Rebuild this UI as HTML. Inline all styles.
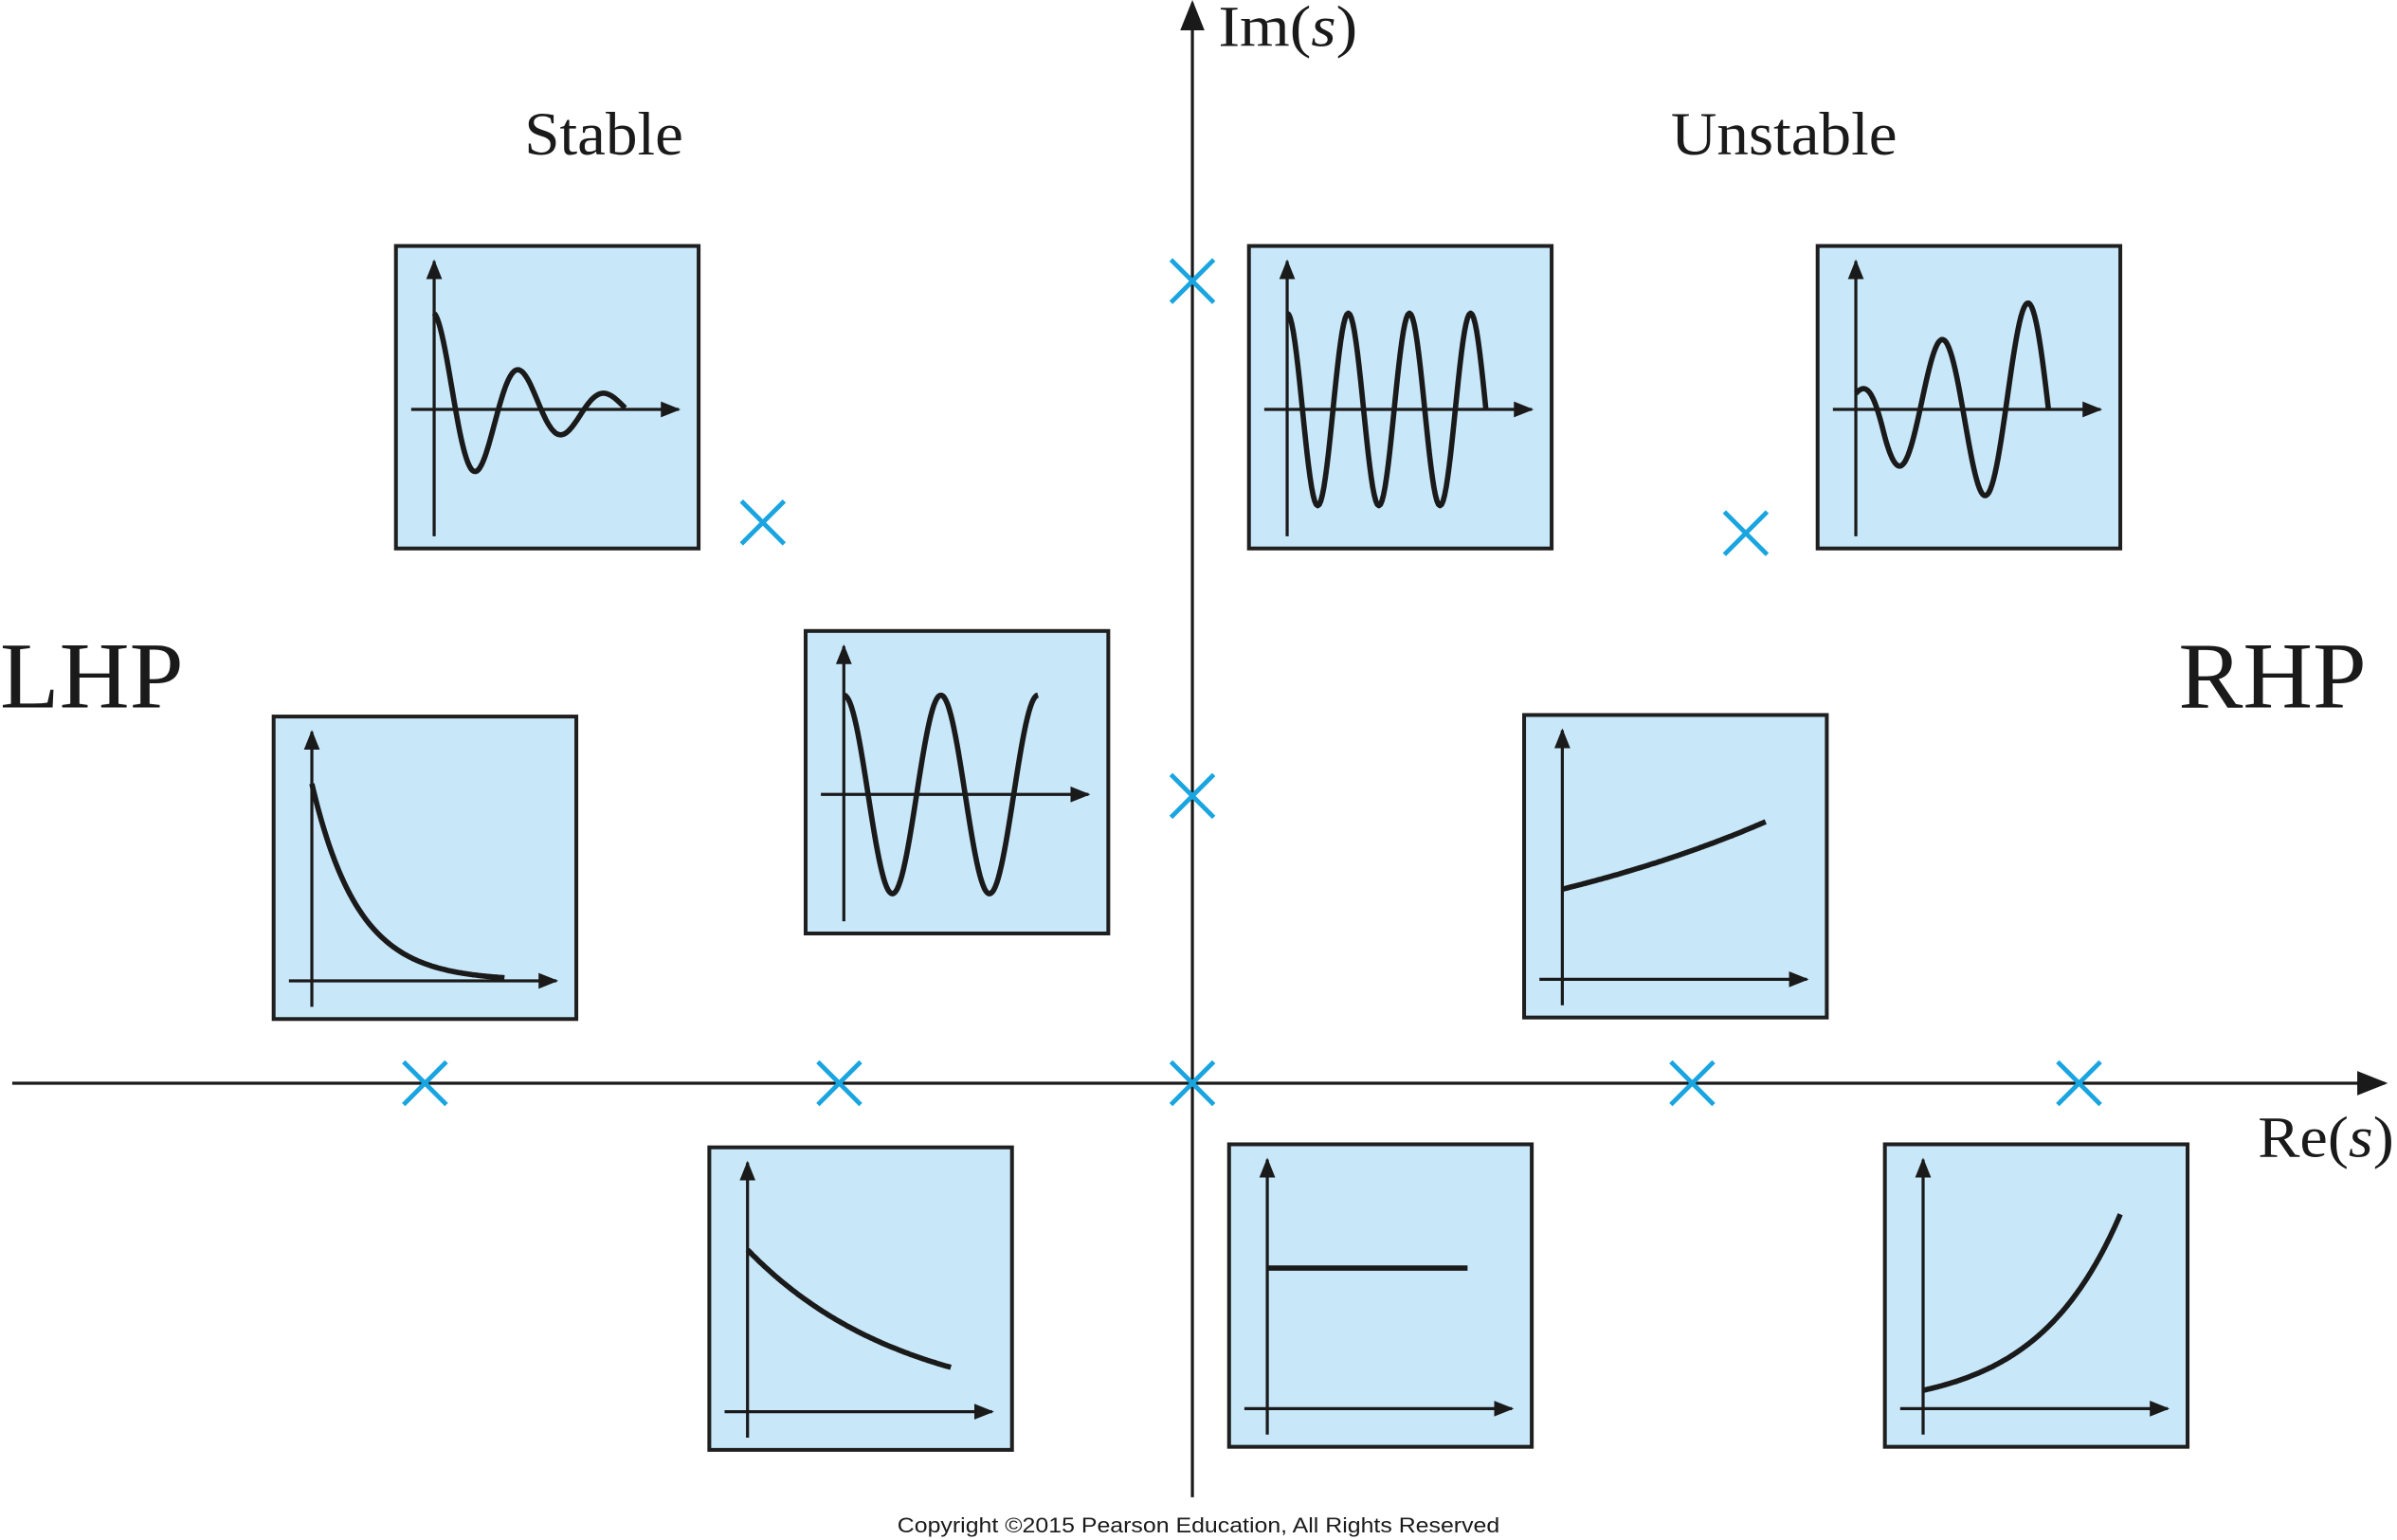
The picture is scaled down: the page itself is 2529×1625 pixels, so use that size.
<!DOCTYPE html>
<html><head><meta charset="utf-8"><style>
html,body{margin:0;padding:0;background:#fff;}
svg{display:block;}
</style></head><body>
<svg id="chart" width="2529" height="1625" viewBox="0 0 1568 1008" preserveAspectRatio="none" xmlns="http://www.w3.org/2000/svg">
<defs>
<marker id="ahBig" viewBox="0 0 10 10" refX="9" refY="5" markerWidth="20" markerHeight="20" orient="auto-start-reverse" markerUnits="userSpaceOnUse"><path d="M0,1 L10,5 L0,9 z" fill="#1a1a1a"/></marker>
<marker id="ahS" viewBox="0 0 10 10" refX="9" refY="5" markerWidth="13" markerHeight="13" orient="auto-start-reverse" markerUnits="userSpaceOnUse"><path d="M0,1 L10,5 L0,9 z" fill="#1a1a1a"/></marker>
</defs>
<g id="boxes"></g>
<line x1="8" y1="709" x2="1560" y2="709" stroke="#1a1a1a" stroke-width="2" marker-end="url(#ahBig)"/>
<line x1="780" y1="980" x2="780" y2="2" stroke="#1a1a1a" stroke-width="2" marker-end="url(#ahBig)"/>
<g id="poles"></g>
<text x="797" y="30" font-family="Liberation Serif, serif" font-size="38" fill="#1a1a1a" textLength="91" lengthAdjust="spacingAndGlyphs">Im(<tspan font-style="italic">s</tspan>)</text>
<text x="1477" y="757" font-family="Liberation Serif, serif" font-size="38" fill="#1a1a1a" textLength="89" lengthAdjust="spacingAndGlyphs">Re(<tspan font-style="italic">s</tspan>)</text>
<text x="343" y="101" font-family="Liberation Serif, serif" font-size="40" fill="#1a1a1a" textLength="104" lengthAdjust="spacingAndGlyphs">Stable</text>
<text x="1093" y="101" font-family="Liberation Serif, serif" font-size="40" fill="#1a1a1a" textLength="148" lengthAdjust="spacingAndGlyphs">Unstable</text>
<text x="0" y="463" font-family="Liberation Serif, serif" font-size="62" fill="#1a1a1a" textLength="120" lengthAdjust="spacingAndGlyphs">LHP</text>
<text x="1425" y="463" font-family="Liberation Serif, serif" font-size="62" fill="#1a1a1a" textLength="123" lengthAdjust="spacingAndGlyphs">RHP</text>
<text x="587" y="1003" font-family="Liberation Sans, sans-serif" font-size="14" fill="#1a1a1a" textLength="394" lengthAdjust="spacingAndGlyphs">Copyright ©2015 Pearson Education, All Rights Reserved</text>
</svg>
<script>
// Pole locations (s-plane units, 1 unit = 100 px)
const poleRe = [-5.02, -2.31, 0, 3.27, 5.80, -2.81, 3.62, 0, 0];
const poleIm = [0, 0, 0, 0, 0, 3.67, 3.60, 5.25, 1.88];
// Response insets: box left/top, response type, params
const boxX = [259, 817, 1189, 527, 179, 997, 464, 804, 1233];
const boxY = [161, 161, 161, 413, 469, 468, 751, 749, 749];
const respType = ['damped', 'osc', 'grow-osc', 'osc', 'exp', 'exp', 'exp', 'const', 'exp'];
const respAmp = [63, 63, 30, 65, 129, 59, 106, 92, 12];
const respRate = [-0.016, 0, 0.0075, 0, -0.033, 0.0042, -0.00975, 0, 0.0183];
const respPeriod = [56, 40, 56, 63.5, 0, 0, 0, 0, 0];
const respPhase = [0, 0, 0, 0, 0, 0, 0, 0, 0];
const respLen = [125, 130, 126, 127, 126, 133, 133, 131, 129];

const NS = 'http://www.w3.org/2000/svg';
const ox = 780, oy = 709, unit = 100;
const sx = v => ox + v * unit;
const sy = v => oy - v * unit;
const boxesG = document.getElementById('boxes');
const polesG = document.getElementById('poles');

function mk(tag, attrs, parent) {
  const e = document.createElementNS(NS, tag);
  for (const k in attrs) e.setAttribute(k, attrs[k]);
  parent.appendChild(e);
  return e;
}

for (let i = 0; i < poleRe.length; i++) {
  const g = mk('g', {}, polesG);
  
  
  const x = sx(poleRe[i]), y = sy(poleIm[i]), r = 14;
  mk('path', {d: `M${x-r},${y-r}L${x+r},${y+r}M${x+r},${y-r}L${x-r},${y+r}`, stroke: '#1aa5e0', 'stroke-width': 3, fill: 'none'}, g);
}

for (let i = 0; i < boxX.length; i++) {
  const bx = boxX[i], by = boxY[i];
  const g = mk('g', {}, boxesG);
  
  
  mk('rect', {x: bx, y: by, width: 198, height: 198, fill: '#c8e8fa', stroke: '#1f1f1f', 'stroke-width': 2.5}, g);
  const t = respType[i];
  const oscil = (t === 'damped' || t === 'osc' || t === 'grow-osc');
  const ax = bx + 25;
  const ay = oscil ? by + 107 : by + 173;
  mk('line', {x1: ax, y1: by + 190, x2: ax, y2: by + 10, stroke: '#1a1a1a', 'stroke-width': 2, 'marker-end': 'url(#ahS)'}, g);
  mk('line', {x1: bx + 10, y1: ay, x2: bx + 185, y2: ay, stroke: '#1a1a1a', 'stroke-width': 2, 'marker-end': 'url(#ahS)'}, g);
  let d = '';
  const A = respAmp[i], a = respRate[i], P = respPeriod[i], ph = respPhase[i], L = respLen[i];
  for (let s = 0; s <= L; s += 1) {
    let v;
    if (t === 'grow-osc') {
      // small initial bump that blends into growing oscillation
      const env = A * Math.exp(a * s) * Math.min(1, 0.35 + s / 30);
      v = env * Math.cos(2 * Math.PI * (s + ph) / P);
    }
    else if (oscil) v = A * Math.exp(a * s) * Math.cos(2 * Math.PI * (s + ph) / P);
    else if (t === 'const') v = A;
    else v = A * Math.exp(a * s);
    d += (s === 0 ? 'M' : 'L') + (ax + s).toFixed(1) + ',' + (ay - v).toFixed(1);
  }
  const c = mk('path', {d: d, fill: 'none', stroke: '#1a1a1a', 'stroke-width': 3.5, 'stroke-linejoin': 'round'}, g);
  
  
}
</script>
</body></html>
